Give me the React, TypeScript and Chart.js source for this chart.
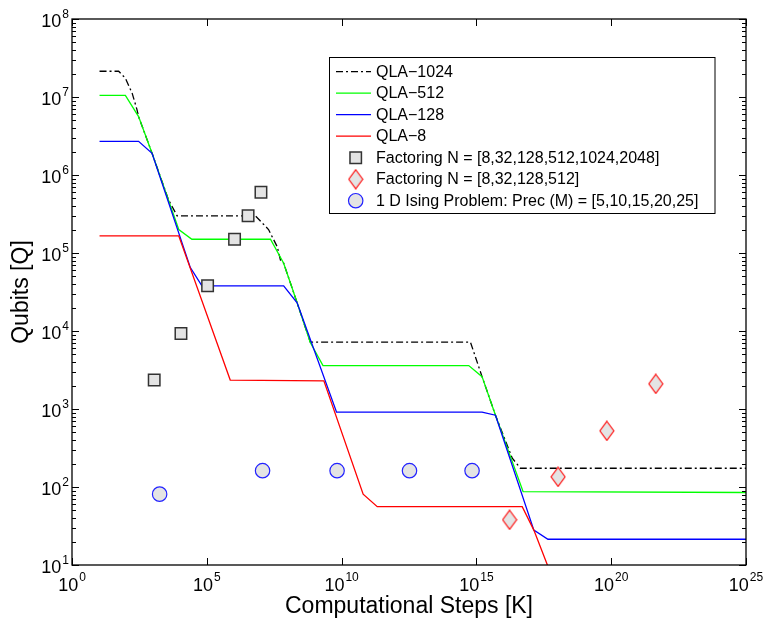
import React, { useEffect, useRef } from 'react';
import { Chart, registerables } from 'chart.js';

Chart.register(...registerables);

// ---- data ----
const qla1024X = [10.5, 53.7, 95.5, 170, 257, 295, 933, 3.8e3, 7.9e3, 6.3e6, 1.95e7, 4.1e7, 5.4e7, 7.1e7, 2.24e8, 6.9e8, 6.0e14, 1.62e15, 5.1e15, 2.14e16, 4.3e16, 1e25];
const qla1024Y = [2.14e7, 2.14e7, 1.74e7, 1.12e7, 6.9e6, 5.6e6, 1.9e6, 4.8e5, 3.0e5, 3.0e5, 2.0e5, 1.2e5, 8.1e4, 7.4e4, 2.3e4, 7.2e3, 7.2e3, 2.6e3, 832, 234, 174, 174];

const qla512X = [10.5, 95.5, 295, 933, 9.1e3, 2.8e4, 2.3e7, 7.1e7, 2.24e8, 6.9e8, 2.04e9, 5.2e14, 1.62e15, 5.1e15, 5.4e16, 1e25];
const qla512Y = [1.05e7, 1.05e7, 5.6e6, 1.9e6, 2.0e5, 1.5e5, 1.5e5, 7.4e4, 2.3e4, 7.1e3, 3.6e3, 3.6e3, 2.6e3, 832, 87, 85];

const qla128X = [10.5, 295, 933, 2.45e4, 6.6e4, 7.1e7, 2.24e8, 6.5e9, 1.62e15, 5.1e15, 1.35e17, 4.5e17, 1e25];
const qla128Y = [2.7e6, 2.7e6, 1.9e6, 6.5e4, 3.8e4, 3.8e4, 2.3e4, 910, 910, 832, 28, 21.4, 21.4];

const qla8X = [10.5, 9.1e3, 7.4e5, 2.2e9, 6.3e10, 2.1e11, 5.0e16, 1.35e17, 4.3e17];
const qla8Y = [1.66e5, 1.66e5, 2.35e3, 2.3e3, 81, 56, 56, 28, 10];

const factoring6X = [1.12e3, 1.1e4, 1.07e5, 1.07e6, 3.4e6, 1.02e7];
const factoring6Y = [2.35e3, 9.3e3, 3.8e4, 1.5e5, 3.0e5, 6.0e5];

const factoring4X = [1.7e16, 1.07e18, 6.9e19, 4.5e21];
const factoring4Y = [38, 135, 525, 2.1e3];

const isingX = [1.78e3, 1.17e7, 6.8e9, 3.3e12, 6.9e14];
const isingY = [81, 162, 162, 162, 162];

const legendLabels = [
  'QLA\u22121024',
  'QLA\u2212512',
  'QLA\u2212128',
  'QLA\u22128',
  'Factoring N = [8,32,128,512,1024,2048]',
  'Factoring N = [8,32,128,512]',
  '1 D Ising Problem: Prec (M) = [5,10,15,20,25]',
];

const xTickExponents = [0, 5, 10, 15, 20, 25];
const yTickExponents = [1, 2, 3, 4, 5, 6, 7, 8];
const xAxisTitle = 'Computational Steps [K]';
const yAxisTitle = 'Qubits [Q]';

// ---- styles ----
const FONT = "'Liberation Sans', Arial, Helvetica, sans-serif";
const MARKER_FILL = 'rgb(228,228,228)';

function pts(xs: number[], ys: number[]) {
  return xs.map((x, i) => ({ x, y: ys[i] }));
}

function makeDiamond(): HTMLCanvasElement {
  const w = 16, h = 21;
  const c = document.createElement('canvas');
  c.width = w; c.height = h;
  const g = c.getContext('2d')!;
  g.beginPath();
  g.moveTo(w / 2, 1);
  g.lineTo(w - 1, h / 2);
  g.lineTo(w / 2, h - 1);
  g.lineTo(1, h / 2);
  g.closePath();
  g.fillStyle = MARKER_FILL;
  g.fill();
  g.strokeStyle = '#ff0000';
  g.lineWidth = 1.1;
  g.stroke();
  return c;
}

const axesPlugin = {
  id: 'matlabAxes',
  afterDraw(chart: any) {
    const { ctx, chartArea: a, scales } = chart;
    const xs = scales.x, ys = scales.y;
    ctx.save();
    ctx.strokeStyle = '#000';
    ctx.lineWidth = 1;
    ctx.setLineDash([]);
    ctx.beginPath();
    for (const t of xs.ticks) {
      const px = Math.round(xs.getPixelForValue(t.value)) + 0.5;
      ctx.moveTo(px, a.bottom); ctx.lineTo(px, a.bottom - 7);
      ctx.moveTo(px, a.top); ctx.lineTo(px, a.top + 7);
    }
    for (const t of ys.ticks) {
      const py = Math.round(ys.getPixelForValue(t.value)) + 0.5;
      const len = t.major ? 7 : 4;
      ctx.moveTo(a.left, py); ctx.lineTo(a.left + len, py);
      ctx.moveTo(a.right, py); ctx.lineTo(a.right - len, py);
    }
    ctx.stroke();
    ctx.lineWidth = 1.3;
    ctx.strokeRect(a.left, a.top, a.right - a.left, a.bottom - a.top);

    // tick labels 10^n
    ctx.fillStyle = '#000';
    ctx.textBaseline = 'alphabetic';
    ctx.textAlign = 'left';
    const big = `18px ${FONT}`, small = `12px ${FONT}`;
    for (const e of xTickExponents) {
      const px = xs.getPixelForValue(Math.pow(10, e));
      ctx.font = big; const w1 = ctx.measureText('10').width;
      ctx.font = small; const w2 = ctx.measureText(String(e)).width;
      const start = px - (w1 + 1 + w2) / 2;
      ctx.font = big; ctx.fillText('10', start, a.bottom + 26);
      ctx.font = small; ctx.fillText(String(e), start + w1 + 1, a.bottom + 15.5);
    }
    for (const e of yTickExponents) {
      const py = ys.getPixelForValue(Math.pow(10, e));
      ctx.font = big; const w1 = ctx.measureText('10').width;
      ctx.font = small; const w2 = ctx.measureText(String(e)).width;
      const right = a.left - 3;
      ctx.font = small; ctx.fillText(String(e), right - w2, py - 1.5);
      ctx.font = big; ctx.fillText('10', right - w2 - 1 - w1, py + 7.5);
    }
    ctx.restore();
  },
};

const legendPlugin = {
  id: 'matlabLegend',
  afterDraw(chart: any) {
    const { ctx } = chart;
    const box = { x: 329.5, y: 57.5, w: 385.5, h: 156 };
    ctx.save();
    ctx.fillStyle = '#fff';
    ctx.fillRect(box.x, box.y, box.w, box.h);
    ctx.strokeStyle = '#000';
    ctx.lineWidth = 1;
    ctx.setLineDash([]);
    ctx.strokeRect(box.x, box.y, box.w, box.h);
    chart.data.datasets.forEach((ds: any, i: number) => {
      const cy = 71.7 + i * 21.5;
      if (ds.showLine) {
        ctx.save();
        ctx.strokeStyle = ds.borderColor;
        ctx.lineWidth = ds.borderWidth;
        ctx.setLineDash(ds.borderDash || []);
        ctx.beginPath();
        ctx.moveTo(336, cy); ctx.lineTo(371, cy);
        ctx.stroke();
        ctx.restore();
      } else {
        const mx = 355.7;
        ctx.save();
        ctx.setLineDash([]);
        if (ds.pointStyle instanceof HTMLCanvasElement) {
          const c = ds.pointStyle;
          ctx.drawImage(c, mx - c.width / 2, cy - c.height / 2);
        } else if (ds.pointStyle === 'rect') {
          const s = Math.SQRT1_2 * ds.pointRadius;
          ctx.fillStyle = ds.pointBackgroundColor;
          ctx.strokeStyle = ds.pointBorderColor;
          ctx.lineWidth = ds.pointBorderWidth;
          ctx.beginPath(); ctx.rect(mx - s, cy - s, 2 * s, 2 * s);
          ctx.fill(); ctx.stroke();
        } else {
          ctx.fillStyle = ds.pointBackgroundColor;
          ctx.strokeStyle = ds.pointBorderColor;
          ctx.lineWidth = ds.pointBorderWidth;
          ctx.beginPath(); ctx.arc(mx, cy, ds.pointRadius, 0, Math.PI * 2);
          ctx.fill(); ctx.stroke();
        }
        ctx.restore();
      }
      ctx.fillStyle = '#000';
      ctx.font = `16px ${FONT}`;
      ctx.textBaseline = 'middle';
      ctx.textAlign = 'left';
      ctx.fillText(ds.label, 376, cy + 0.5);
    });
    ctx.restore();
  },
};

export default function App() {
  const ref = useRef<HTMLCanvasElement | null>(null);
  useEffect(() => {
    if (!ref.current) return;
    const diamond = makeDiamond();
    const lineDs = (label: string, xs: number[], ys: number[], color: string, order: number, dash?: number[]) => ({
      label,
      data: pts(xs, ys),
      showLine: true,
      borderColor: color,
      backgroundColor: color,
      borderWidth: 1.3,
      borderDash: dash || [],
      pointRadius: 0,
      pointHoverRadius: 0,
      tension: 0,
      order,
    });
    const chart = new Chart(ref.current, {
      type: 'scatter',
      data: {
        datasets: [
          lineDs(legendLabels[0], qla1024X, qla1024Y, '#000000', 10, [7, 3, 2, 3]),
          lineDs(legendLabels[1], qla512X, qla512Y, '#00ff00', 9),
          lineDs(legendLabels[2], qla128X, qla128Y, '#0000ff', 8),
          lineDs(legendLabels[3], qla8X, qla8Y, '#ff0000', 7),
          {
            label: legendLabels[4],
            data: pts(factoring6X, factoring6Y),
            showLine: false,
            pointStyle: 'rect',
            pointRadius: 8.1,
            pointBackgroundColor: MARKER_FILL,
            pointBorderColor: '#333333',
            pointBorderWidth: 1.5,
            order: 3,
          },
          {
            label: legendLabels[5],
            data: pts(factoring4X, factoring4Y),
            showLine: false,
            pointStyle: diamond,
            pointRadius: 8,
            order: 2,
          },
          {
            label: legendLabels[6],
            data: pts(isingX, isingY),
            showLine: false,
            pointStyle: 'circle',
            pointRadius: 7.2,
            pointBackgroundColor: MARKER_FILL,
            pointBorderColor: '#2222ff',
            pointBorderWidth: 1.2,
            order: 1,
          },
        ] as any,
      },
      options: {
        responsive: false,
        animation: false,
        devicePixelRatio: 1,
        layout: { padding: { left: 0, top: 19, right: 17, bottom: 0 } },
        plugins: {
          legend: { display: false },
          tooltip: { enabled: false },
        },
        scales: {
          x: {
            type: 'logarithmic',
            min: 1,
            max: 1e25,
            grid: { display: false },
            border: { display: false },
            ticks: { display: false },
            title: {
              display: true,
              text: xAxisTitle,
              color: '#000',
              font: { family: FONT, size: 23 },
              padding: { top: 0, bottom: 2 },
            },
            afterBuildTicks: (scale: any) => {
              scale.ticks = xTickExponents.map((e) => ({ value: Math.pow(10, e), major: true }));
            },
            afterFit: (scale: any) => { scale.height = 57; },
          },
          y: {
            type: 'logarithmic',
            min: 10,
            max: 1e8,
            grid: { display: false },
            border: { display: false },
            ticks: { display: false },
            title: {
              display: true,
              text: yAxisTitle,
              color: '#000',
              font: { family: FONT, size: 23 },
              padding: { top: 8, bottom: 0 },
            },
            afterBuildTicks: (scale: any) => {
              const t: any[] = [];
              for (let e = 1; e < 8; e++) {
                for (let m = 1; m <= 9; m++) t.push({ value: m * Math.pow(10, e), major: m === 1 });
              }
              t.push({ value: 1e8, major: true });
              scale.ticks = t;
            },
            afterFit: (scale: any) => { scale.width = 72; },
          },
        },
      } as any,
      plugins: [axesPlugin, legendPlugin],
    });
    return () => chart.destroy();
  }, []);
  return (
    <div style={{ position: 'fixed', left: 0, top: 0, width: 763, height: 622, background: '#fff' }}>
      <canvas ref={ref} width={763} height={622} style={{ display: 'block', width: 763, height: 622 }} />
    </div>
  );
}
